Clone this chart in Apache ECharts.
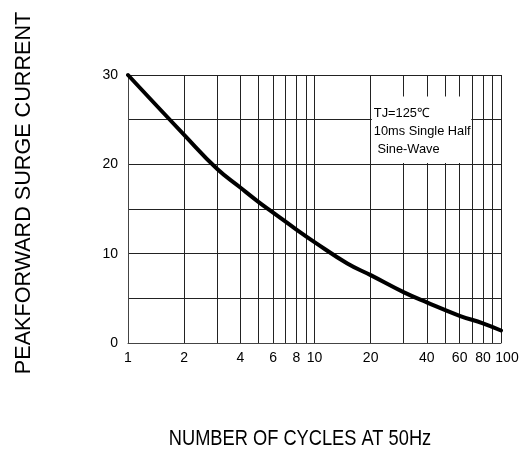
<!DOCTYPE html>
<html>
<head>
<meta charset="utf-8">
<script src="https://cdn.jsdelivr.net/npm/echarts@6/dist/echarts.min.js"></script>
<style>html,body{margin:0;padding:0;background:#fff}#c{width:529px;height:450px}</style>
</head>
<body>
<div id="c"></div>
<script>
// Data
var cycles = [1, 2, 3, 4, 5, 6, 8, 10, 15, 20, 30, 40, 60, 80, 100];
var surge  = [30, 23.3, 19.5, 17.4, 15.8, 14.6, 12.7, 11.3, 8.9, 7.6, 5.7, 4.55, 3.05, 2.2, 1.4];
var xGrid   = [1,2,3,4,5,6,7,8,9,10,20,30,40,50,60,70,80,90,100];
var xLabels = [1,2,4,6,8,10,20,40,60,80,100];
var yLabels = [0,10,20,30];
var noteLines = ['TJ=125\u2103', '10ms Single Half', ' Sine-Wave'];
var noteBox = {x0: 20.3, x1: 69.3, y0: 20.15, y1: 27.6};
var yTitle = 'PEAKFORWARD SURGE CURRENT';
var xTitle = 'NUMBER OF CYCLES AT 50Hz';

var FONT = 'Liberation Sans, Arial, sans-serif';
var chart = echarts.init(document.getElementById('c'), null, {renderer: 'canvas'});
var lineCol = '#222';
chart.setOption({
  backgroundColor: '#fff',
  animation: false,
  grid: {left: 128, right: 28, top: 75, bottom: 107, containLabel: false},
  xAxis: {
    type: 'log', logBase: 10, min: 1, max: 100,
    axisLine: {show: true, onZero: false, lineStyle: {color: '#444', width: 1}},
    axisTick: {show: false, customValues: xGrid},
    axisLabel: {customValues: xLabels, color: '#000', fontSize: 14, margin: 8,
      fontFamily: FONT, hideOverlap: false, showMaxLabel: true, showMinLabel: true,
      formatter: function (v) { return v === 100 ? '{m|100}' : String(v); },
      rich: {m: {fontSize: 14, fontFamily: FONT, color: '#000', padding: [0, 0, 0, 12]}}},
    splitLine: {show: true, lineStyle: {color: lineCol, width: 1}},
    minorTick: {show: false}, minorSplitLine: {show: false}
  },
  yAxis: {
    type: 'value', min: 0, max: 30, interval: 5,
    axisLine: {show: true, lineStyle: {color: '#444', width: 1}},
    axisTick: {show: false},
    axisLabel: {color: '#000', fontSize: 14, margin: 10, fontFamily: FONT,
      formatter: function (v) { return yLabels.indexOf(v) >= 0 ? String(v) : ''; }},
    splitLine: {show: true, lineStyle: {color: lineCol, width: 1}}
  },
  series: [
    {
      type: 'line', z: 3,
      data: [],
      markArea: {
        silent: true,
        itemStyle: {color: '#fff', borderWidth: 0},
        label: {
          show: true, position: 'insideTopLeft', distance: 0,
          padding: [8, 0, 0, 2],
          color: '#000', fontSize: 12.8, lineHeight: 18,
          fontFamily: FONT,
          formatter: noteLines.join('\n')
        },
        data: [[{xAxis: noteBox.x0, yAxis: noteBox.y1}, {xAxis: noteBox.x1, yAxis: noteBox.y0}]]
      }
    },
    {
      type: 'line', z: 5,
      data: cycles.map(function (c, i) { return [c, surge[i]]; }),
      smooth: 0.45, symbol: 'none', clip: false,
      lineStyle: {color: '#000', width: 4, cap: 'round'}
    }
  ],
  graphic: [
    {type: 'text', x: 24, y: 193, rotation: Math.PI / 2,
      style: {text: yTitle, fill: '#000', font: '21.6px "Liberation Sans", Arial, sans-serif',
        align: 'center', verticalAlign: 'middle', textAlign: 'center', textVerticalAlign: 'middle'}},
    {type: 'text', x: 300, y: 439, scaleX: 0.83, scaleY: 1,
      style: {text: xTitle, fill: '#000', font: '22px "Liberation Sans", Arial, sans-serif',
        align: 'center', verticalAlign: 'middle', textAlign: 'center', textVerticalAlign: 'middle'}}
  ]
});
</script>
</body>
</html>
